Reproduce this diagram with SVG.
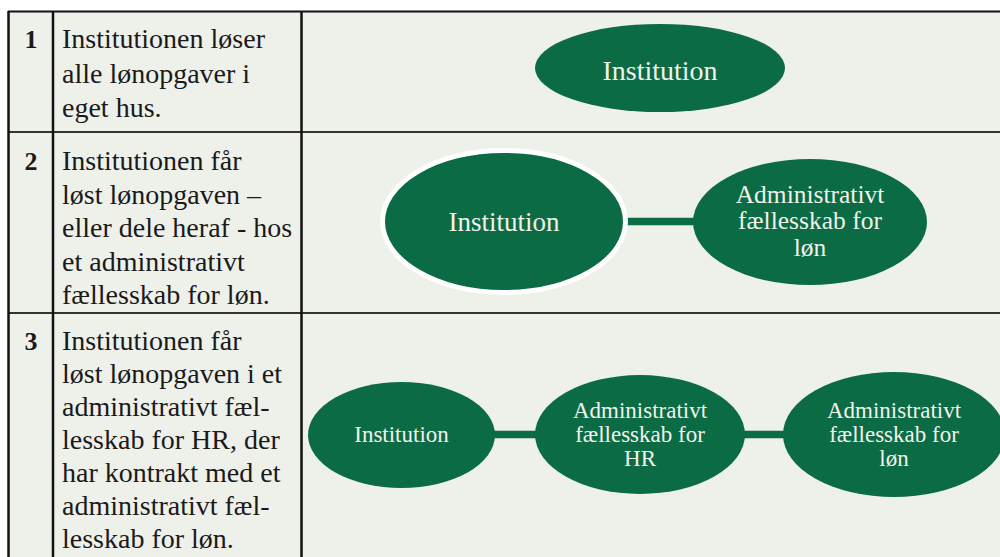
<svg xmlns="http://www.w3.org/2000/svg" width="1000" height="557" viewBox="0 0 1000 557">
<style>
.cell{fill:#eef0ea}
.grid{stroke:#111;fill:none}
.node{fill:#0a6b45}
.lbl{font-family:"Liberation Serif","Times New Roman",serif;fill:#f2f2ea;text-anchor:middle}
.txt{font-family:"Liberation Serif","Times New Roman",serif;font-size:28px;fill:#1a1a1a}
.num{font-family:"Liberation Serif","Times New Roman",serif;font-size:26px;font-weight:bold;fill:#1a1a1a;text-anchor:middle}
.conn{stroke:#0a6b45;stroke-width:7.5;fill:none}
</style>
<rect width="1000" height="557" fill="#ffffff"/>
<g id="table">
<rect class="cell" x="8" y="11" width="992" height="546"/>
<line class="grid" x1="8" y1="11.5" x2="1000" y2="11.5" stroke-width="1.8"/>
<line x1="8" y1="132" x2="1000" y2="132" stroke="#333" stroke-width="2"/>
<line x1="8" y1="313" x2="1000" y2="313" stroke="#333" stroke-width="2"/>
<line class="grid" x1="8.5" y1="11" x2="8.5" y2="557" stroke-width="2.5"/>
<line class="grid" x1="53" y1="11" x2="53" y2="557" stroke-width="2.5"/>
<line class="grid" x1="301.5" y1="11" x2="301.5" y2="557" stroke-width="2.5"/>
</g>
<g id="row1-text">
<text class="num" x="31" y="48">1</text>
<text class="txt" x="62" y="48">Institutionen løser</text>
<text class="txt" x="62" y="82.5">alle lønopgaver i</text>
<text class="txt" x="62" y="117">eget hus.</text>
</g>
<g id="row2-text">
<text class="num" x="31" y="170">2</text>
<text class="txt" x="62" y="170">Institutionen får</text>
<text class="txt" x="62" y="203.5">løst lønopgaven –</text>
<text class="txt" x="62" y="237">eller dele heraf - hos</text>
<text class="txt" x="62" y="270.5">et administrativt</text>
<text class="txt" x="62" y="304">fællesskab for løn.</text>
</g>
<g id="row3-text">
<text class="num" x="31" y="350">3</text>
<text class="txt" x="62" y="350">Institutionen får</text>
<text class="txt" x="62" y="383">løst lønopgaven i et</text>
<text class="txt" x="62" y="416">administrativt fæl-</text>
<text class="txt" x="62" y="449">lesskab for HR, der</text>
<text class="txt" x="62" y="482">har kontrakt med et</text>
<text class="txt" x="62" y="515">administrativt fæl-</text>
<text class="txt" x="62" y="548">lesskab for løn.</text>
</g>
<g id="connectors">
<line class="conn" x1="620" y1="221.5" x2="700" y2="221.5"/>
<line class="conn" x1="490" y1="434.5" x2="540" y2="434.5"/>
<line class="conn" x1="740" y1="434.5" x2="788" y2="434.5"/>
</g>
<g id="n1-institution">
<ellipse class="node" cx="660" cy="68" rx="125" ry="44"/>
<text class="lbl" x="660" y="80" font-size="28">Institution</text>
</g>
<g id="n2-institution">
<ellipse class="node" cx="504" cy="221.5" rx="121.5" ry="71" stroke="#ffffff" stroke-width="5"/>
<text class="lbl" x="504" y="231" font-size="27">Institution</text>
</g>
<g id="n2-loen">
<ellipse class="node" cx="810" cy="222" rx="117" ry="63"/>
<text class="lbl" x="810" y="202.5" font-size="25.5">Administrativt</text>
<text class="lbl" x="810" y="229" font-size="25.5">fællesskab for</text>
<text class="lbl" x="810" y="255.5" font-size="25.5">løn</text>
</g>
<g id="n3-institution">
<ellipse class="node" cx="401.5" cy="435" rx="93.5" ry="53"/>
<text class="lbl" x="401.5" y="442" font-size="23">Institution</text>
</g>
<g id="n3-hr">
<ellipse class="node" cx="640" cy="434.5" rx="105" ry="59.5"/>
<text class="lbl" x="640" y="418" font-size="23">Administrativt</text>
<text class="lbl" x="640" y="442" font-size="23">fællesskab for</text>
<text class="lbl" x="640" y="466" font-size="23">HR</text>
</g>
<g id="n3-loen">
<ellipse class="node" cx="894" cy="434.5" rx="111" ry="62.5"/>
<text class="lbl" x="894" y="418" font-size="23">Administrativt</text>
<text class="lbl" x="894" y="442" font-size="23">fællesskab for</text>
<text class="lbl" x="894" y="466" font-size="23">løn</text>
</g>
</svg>
